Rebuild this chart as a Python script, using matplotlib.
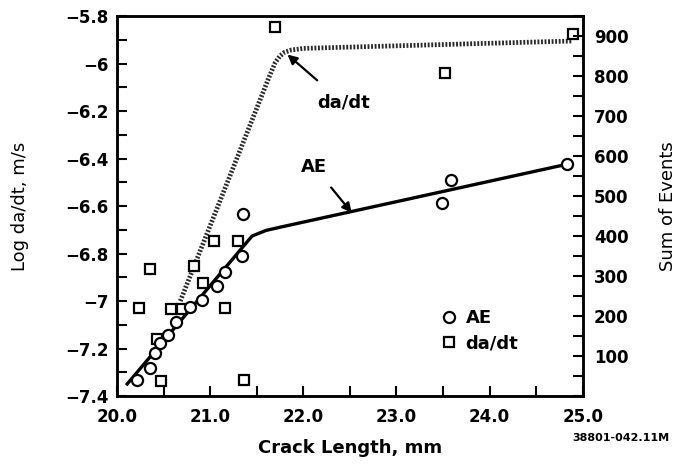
import matplotlib
matplotlib.use("Agg")
import matplotlib.pyplot as plt
from matplotlib.lines import Line2D
from matplotlib.ticker import MultipleLocator, FuncFormatter

plt.rcParams['font.family'] = ['DejaVu Sans']

# da/dt data (left axis, log m/s)
dadt_x = [20.24, 20.36, 20.43, 20.47, 20.58, 20.70, 20.83, 20.92, 21.04, 21.16,
          21.30, 21.36, 21.70, 23.52, 24.90]
dadt_y = [-7.03, -6.865, -7.16, -7.337, -7.034, -7.034, -6.853, -6.924, -6.747, -7.03,
          -6.747, -7.333, -5.846, -6.04, -5.876]

# AE data (right axis, sum of events)
ae_x = [20.22, 20.36, 20.41, 20.46, 20.55, 20.63, 20.78, 20.91, 21.07, 21.16,
        21.34, 21.35, 23.49, 23.59, 24.83]
ae_y = [40, 70, 107, 132, 152, 185, 222, 240, 275, 310, 350, 455, 482, 540, 580]

# fitted curves
dadt_fit_x = [20.68, 21.64, 21.70, 21.75, 21.80, 21.87, 22.0, 24.88]
dadt_fit_y = [-7.00, -6.05, -5.995, -5.968, -5.952, -5.943, -5.936, -5.905]
ae_fit_x = [20.11, 21.45, 21.6, 21.75, 24.84]
ae_fit_y = [30, 400, 414, 422, 580]

fig = plt.figure(figsize=(6.8, 4.65), dpi=100)
ax = fig.add_axes([0.172, 0.1484, 0.685, 0.817])
ax2 = ax.twinx()

# da/dt fit line, drawn as a dense dotted band
ax.plot(dadt_fit_x, dadt_fit_y, color='#2a2a2a', lw=3.4, linestyle=(0, (0.4, 0.35)),
        solid_capstyle='butt')
ax.plot(dadt_x, dadt_y, linestyle='none', marker='s', markersize=7.5,
        markerfacecolor='white', markeredgecolor='black', markeredgewidth=1.6, clip_on=False)

ax2.plot(ae_fit_x, ae_fit_y, color='black', lw=2.4)
ax2.plot(ae_x, ae_y, linestyle='none', marker='o', markersize=8,
         markerfacecolor='white', markeredgecolor='black', markeredgewidth=1.6)

ax.set_xlim(20.0, 25.0)
ax.set_ylim(-7.4, -5.8)
ax2.set_ylim(0, 950)

ax.xaxis.set_major_locator(MultipleLocator(1.0))
ax.xaxis.set_minor_locator(MultipleLocator(0.5))
ax.xaxis.set_major_formatter(FuncFormatter(lambda v, p: '%.1f' % v))
ax.yaxis.set_major_locator(MultipleLocator(0.2))
ax.yaxis.set_minor_locator(MultipleLocator(0.1))
ax.yaxis.set_major_formatter(FuncFormatter(lambda v, p: ('%g' % round(v, 2)).replace('-', '\u2212')))
ax2.yaxis.set_major_locator(MultipleLocator(100))
ax2.yaxis.set_minor_locator(MultipleLocator(50))
ax2.yaxis.set_major_formatter(FuncFormatter(lambda v, p: '%d' % v if v > 0 else ''))

for a in (ax, ax2):
    for s in a.spines.values():
        s.set_linewidth(1.8)
ax.tick_params(axis='both', which='both', direction='in', length=7, width=1.5,
               top=False, right=False, labelsize=12)
ax.tick_params(axis='y', pad=6)
ax.tick_params(axis='x', pad=9)
ax2.tick_params(axis='y', which='both', direction='in', length=7, width=1.5,
                labelsize=12, pad=8)
for lbl in ax.get_xticklabels() + ax.get_yticklabels() + ax2.get_yticklabels():
    lbl.set_fontweight('bold')

ax.set_xlabel('Crack Length, mm', fontsize=13, fontweight='bold', labelpad=9)
ax.set_ylabel('Log da/dt, m/s', fontsize=13, labelpad=26)
ax2.set_ylabel('Sum of Events', fontsize=13, labelpad=22)

ax.annotate('da/dt', xy=(21.83, -5.962), xytext=(22.43, -6.166), fontsize=13,
            fontweight='bold', ha='center', va='center',
            arrowprops=dict(arrowstyle='-|>', color='black', lw=1.6, mutation_scale=14,
                            shrinkA=12, shrinkB=0))
ax.annotate('AE', xy=(22.52, -6.628), xytext=(22.12, -6.436), fontsize=13,
            fontweight='bold', ha='center', va='center',
            arrowprops=dict(arrowstyle='-|>', color='black', lw=1.6, mutation_scale=14,
                            shrinkA=8, shrinkB=0))

handles = [Line2D([], [], linestyle='none', marker='o', markersize=8, markerfacecolor='white',
                  markeredgecolor='black', markeredgewidth=1.6, label='AE'),
           Line2D([], [], linestyle='none', marker='s', markersize=7.5, markerfacecolor='white',
                  markeredgecolor='black', markeredgewidth=1.6, label='da/dt')]
ax2.legend(handles=handles, loc='lower left', bbox_to_anchor=(0.675, 0.092), frameon=False,
           handlelength=1.0, handletextpad=0.4, labelspacing=0.38, borderpad=0,
           prop={'size': 13, 'weight': 'bold'})

fig.text(0.985, 0.058, '38801-042.11M', fontsize=8, fontweight='bold', ha='right', va='center')

fig.savefig('out.png', dpi=100)
